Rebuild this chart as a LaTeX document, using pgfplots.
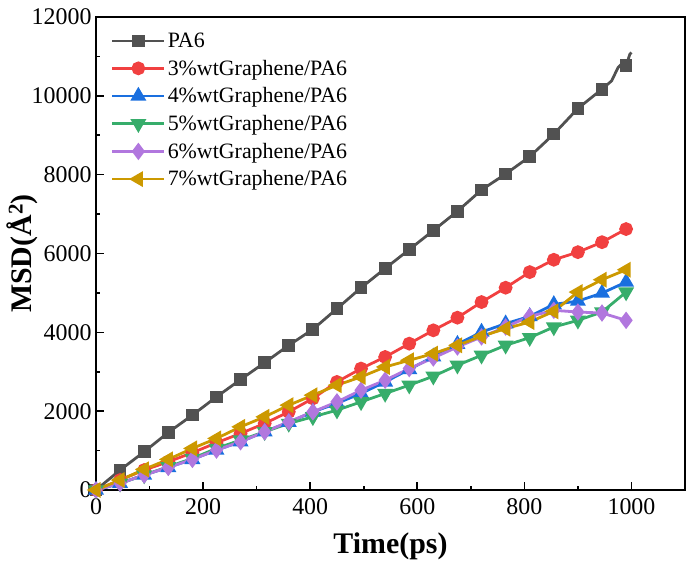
\documentclass[border=0pt]{standalone}
\usepackage{pgfplots}
\pgfplotsset{compat=1.18}
\usepackage{fontspec}
\setmainfont{Liberation Serif}
\definecolor{cPA}{HTML}{515151}
\definecolor{cR}{HTML}{F14040}
\definecolor{cB}{HTML}{1A6FDF}
\definecolor{cG}{HTML}{37AD6B}
\definecolor{cP}{HTML}{B177DE}
\definecolor{cY}{HTML}{CC9900}
\begin{document}
\begin{tikzpicture}
\begin{axis}[
  scale only axis,
  width=589bp, height=473bp,
  xmin=0, xmax=1100, ymin=0, ymax=12000,
  xtick={0,200,...,1000}, ytick={0,2000,...,12000},
  scaled y ticks=false, scaled x ticks=false,
  minor x tick num=1, minor y tick num=1,
  tick pos=left, tick align=inside,
  major tick length=8bp, minor tick length=4bp,
  every tick/.style={black, line width=1.6pt},
  axis line style={line width=1.8pt},
  /pgf/number format/assume math mode=true,
  /pgf/number format/1000 sep={},
  ticklabel style={font=\fontsize{24}{26}\selectfont},
  xticklabel style={yshift=-5bp},
  yticklabel style={xshift=-1bp},
  xlabel={\textbf{Time(ps)}},
  ylabel={\textbf{MSD(Å\textsuperscript{2})}},
  label style={font=\fontsize{30}{32}\selectfont},
  xlabel style={yshift=-11bp},
  ylabel style={yshift=-13bp},
  legend style={draw=none, fill=none, at={(0.02,0.975)}, anchor=north west,
    font=\fontsize{22}{24}\selectfont, row sep=7bp,
    /tikz/every even column/.append style={column sep=2bp}},
  legend cell align=left,
  legend image code/.code={
    \draw[mark repeat=2,mark phase=2] plot coordinates {(0bp,0bp) (26bp,0bp) (52bp,0bp)};},
]
\addplot[color=cPA, line width=2.8pt, mark=square*, mark size=5pt, mark options={solid},
  mark indices={1,2,3,4,5,6,7,8,9,10,11,12,13,14,15,16,17,18,19,20,21,22,26},
  legend image code/.code={
    \draw[mark indices={2}] plot coordinates {(0bp,0bp) (26bp,0bp) (52bp,0bp)};}]
 coordinates {(0,0)(45,506)(90,970)(135,1460)(180,1900)(225,2362)(270,2802)(315,3232)(360,3671)(405,4076)(450,4600)(495,5132)(540,5620)(585,6100)(630,6583)(675,7072)(720,7613)(765,8018)(810,8457)(855,9031)(900,9680)(945,10170)(963,10380)(975,10719)(984,10845)(990,10760)(997,11056)(1000,11100)};
\addlegendentry{PA6}
\addplot[color=cR, line width=2.8pt, mark=*, mark size=5.5pt]
 coordinates {(0,0)(45,253)(90,506)(135,717)(180,945)(225,1198)(270,1435)(315,1688)(360,1983)(405,2322)(450,2742)(495,3081)(540,3375)(585,3713)(630,4051)(675,4372)(720,4768)(765,5132)(810,5528)(855,5841)(900,6034)(945,6287)(990,6620)};
\addlegendentry{3\%wtGraphene/PA6}
\addplot[color=cB, line width=2.8pt, mark=triangle*, mark size=6.5pt]
 coordinates {(0,0)(45,169)(90,380)(135,574)(180,777)(225,1013)(270,1224)(315,1477)(360,1720)(405,1980)(450,2200)(495,2450)(540,2742)(585,3060)(630,3380)(675,3700)(720,4008)(765,4220)(810,4405)(855,4709)(900,4793)(945,4996)(990,5275)};
\addlegendentry{4\%wtGraphene/PA6}
\addplot[color=cG, line width=2.8pt, mark=triangle*, mark size=6.5pt, mark options={rotate=180}]
 coordinates {(0,0)(45,169)(90,380)(135,591)(180,800)(225,1055)(270,1266)(315,1477)(360,1688)(405,1856)(450,2025)(495,2236)(540,2448)(585,2659)(630,2886)(675,3165)(720,3418)(765,3671)(810,3865)(855,4135)(900,4304)(945,4515)(990,5021)};
\addlegendentry{5\%wtGraphene/PA6}
\addplot[color=cP, line width=2.8pt, mark=diamond*, mark size=6.5pt]
 coordinates {(0,0)(45,169)(90,380)(135,574)(180,777)(225,1013)(270,1224)(315,1477)(360,1730)(405,1983)(450,2236)(495,2532)(540,2785)(585,3081)(630,3350)(675,3629)(720,3882)(765,4135)(810,4405)(855,4558)(900,4515)(945,4490)(990,4304)};
\addlegendentry{6\%wtGraphene/PA6}
\addplot[color=cY, line width=2.8pt, mark=triangle*, mark size=6.5pt, mark options={rotate=90}]
 coordinates {(0,0)(45,253)(90,524)(135,777)(180,1055)(225,1308)(270,1603)(315,1856)(360,2152)(405,2405)(450,2659)(495,2869)(540,3122)(585,3291)(630,3460)(675,3671)(720,3899)(765,4094)(810,4262)(855,4532)(900,5021)(945,5335)(990,5588)};
\addlegendentry{7\%wtGraphene/PA6}
\end{axis}
\path (current axis.south west) ++(-96bp,-75bp) coordinate (bbA);
\path (current axis.north east) ++(9bp,17bp) coordinate (bbB);
\pgfresetboundingbox
\useasboundingbox (bbA) rectangle (bbB);
\end{tikzpicture}
\end{document}
